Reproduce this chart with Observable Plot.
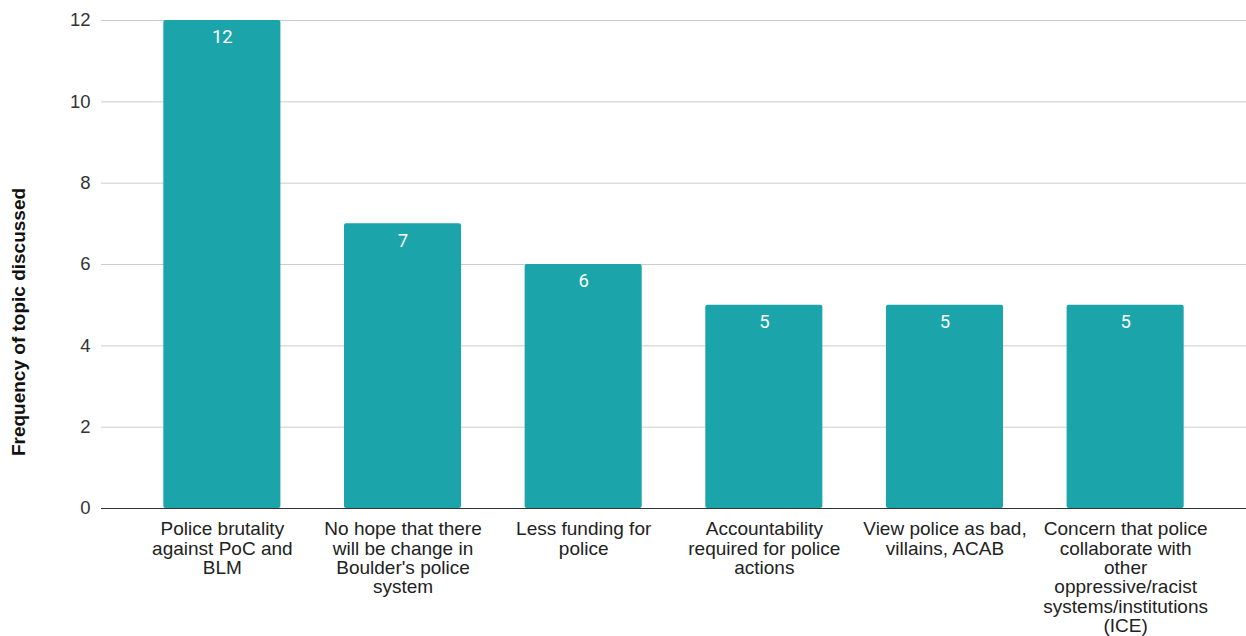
<!DOCTYPE html>
<html>
<head>
<meta charset="utf-8">
<script src="https://cdn.jsdelivr.net/npm/d3@7"></script>
<script src="https://cdn.jsdelivr.net/npm/@observablehq/plot@0.6"></script>
<style>
  html, body { margin: 0; padding: 0; background: #fff; }
  #chart { width: 1246px; height: 636px; }
</style>
</head>
<body>
<div id="chart"></div>
<script>
// Topics raised about policing, with how often each came up
const categories = [
  "Police brutality\nagainst PoC and\nBLM",
  "No hope that there\nwill be change in\nBoulder's police\nsystem",
  "Less funding for\npolice",
  "Accountability\nrequired for police\nactions",
  "View police as bad,\nvillains, ACAB",
  "Concern that police\ncollaborate with\nother\noppressive/racist\nsystems/institutions\n(ICE)"
];
const counts = [12, 7, 6, 5, 5, 5];
const yTicks = [0, 2, 4, 6, 8, 10, 12];
const yTitle = "Frequency of topic discussed";

const data = categories.map((topic, i) => ({topic, count: counts[i]}));

const barColor = "#1ba4a9";
const sansFont = "'Liberation Sans', Arial, sans-serif";

const chart = Plot.plot({
  width: 1246,
  height: 636,
  marginTop: 20,
  marginBottom: 128,
  marginLeft: 101,
  marginRight: 0,
  style: {fontFamily: sansFont, fontSize: "19px", color: "#222", background: "#fff"},
  x: {domain: categories, paddingInner: 0.352, paddingOuter: 0.345, round: false, label: null},
  y: {domain: [0, 12], ticks: yTicks, label: null},
  marks: [
    Plot.gridY(yTicks, {stroke: "#cccccc", strokeOpacity: 1}),
    Plot.axisY({ticks: yTicks, tickSize: 0, tickPadding: 11, fontSize: 18.5, label: null, fill: "#333"}),
    Plot.axisX({tickSize: 0, tickPadding: 13, fontSize: 19, lineHeight: 1.02, label: null, fill: "#222", lineAnchor: "top"}),
    Plot.barY(data, {x: "topic", y: "count", fill: barColor, rx: 2}),
    Plot.ruleY([0], {stroke: "#333", strokeWidth: 1}),
    Plot.text(data, {
      x: "topic", y: "count", text: d => String(d.count),
      dy: 17, fill: "#fff", fontSize: 18.5, fontFamily: "Roboto, sans-serif", lineAnchor: "middle"
    })
  ]
});

// Vertical axis title placed along the left edge
d3.select(chart).append("text")
  .attr("transform", "translate(25,322) rotate(-90)")
  .attr("text-anchor", "middle")
  .attr("font-family", sansFont)
  .attr("font-weight", "bold")
  .attr("font-size", 19)
  .attr("fill", "#111")
  .text(yTitle);

document.getElementById("chart").appendChild(chart);
</script>
</body>
</html>
